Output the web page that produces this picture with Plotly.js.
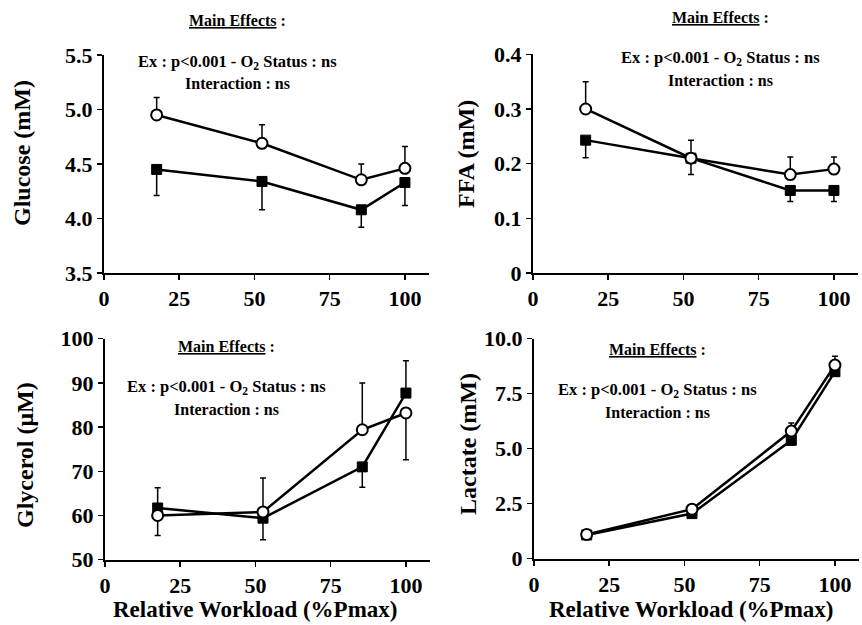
<!DOCTYPE html>
<html>
<head>
<meta charset="utf-8">
<script src="https://cdn.plot.ly/plotly-3.0.1.min.js"></script>
<style>html,body{margin:0;padding:0;background:#fff;}#chart{width:862px;height:625px;}</style>
</head>
<body>
<div id="chart"></div>
<script>
// ---- Data ----
const workload = [17.5, 52.5, 85.5, 100];

const glucoseHypoxia = [4.95, 4.69, 4.355, 4.46];
const glucoseHypoxiaUp = [0.16, 0.17, 0.145, 0.20];
const glucoseHypoxiaDown = [0, 0, 0, 0];
const glucoseNormoxia = [4.45, 4.34, 4.08, 4.33];
const glucoseNormoxiaUp = [0, 0, 0, 0];
const glucoseNormoxiaDown = [0.24, 0.26, 0.16, 0.21];

const ffaHypoxia = [0.30, 0.21, 0.18, 0.19];
const ffaHypoxiaUp = [0.05, 0.033, 0.032, 0.022];
const ffaHypoxiaDown = [0, 0, 0, 0];
const ffaNormoxia = [0.243, 0.21, 0.151, 0.151];
const ffaNormoxiaUp = [0, 0, 0, 0];
const ffaNormoxiaDown = [0.032, 0.03, 0.02, 0.02];

const glycerolHypoxia = [60.0, 60.8, 79.4, 83.2];
const glycerolHypoxiaUp = [6.3, 7.7, 10.6, 0];
const glycerolHypoxiaDown = [0, 0, 0, 10.6];
const glycerolNormoxia = [61.7, 59.4, 71.0, 87.7];
const glycerolNormoxiaUp = [0, 0, 0, 7.3];
const glycerolNormoxiaDown = [6.2, 4.9, 4.6, 0];

const lactateHypoxia = [1.1, 2.25, 5.8, 8.8];
const lactateHypoxiaUp = [0, 0, 0.37, 0.4];
const lactateHypoxiaDown = [0, 0, 0, 0];
const lactateNormoxia = [1.08, 2.05, 5.38, 8.5];
const lactateNormoxiaUp = [0, 0, 0, 0];
const lactateNormoxiaDown = [0, 0, 0.2, 0.2];

const xTickVals = [0, 25, 50, 75, 100];
const xTickText = ['0', '25', '50', '75', '100'];
const glucoseTickVals = [3.5, 4.0, 4.5, 5.0, 5.5];
const glucoseTickText = ['3.5', '4.0', '4.5', '5.0', '5.5'];
const ffaTickVals = [0, 0.1, 0.2, 0.3, 0.4];
const ffaTickText = ['0', '0.1', '0.2', '0.3', '0.4'];
const glycerolTickVals = [50, 60, 70, 80, 90, 100];
const glycerolTickText = ['50', '60', '70', '80', '90', '100'];
const lactateTickVals = [0, 2.5, 5.0, 7.5, 10.0];
const lactateTickText = ['0', '2.5', '5.0', '7.5', '10.0'];

const yTitles = ['Glucose (mM)', 'FFA (mM)', 'Glycerol (\u03bcM)', 'Lactate (mM)'];
const xTitle = 'Relative Workload (%Pmax)';
const effectsTitle = '<u>Main Effects</u> :';
const effectsLine1 = 'Ex : p&lt;0.001 - O<sub>2</sub> Status : ns';
const effectsLine2 = 'Interaction : ns';

// ---- Build ----
const W = 862, H = 625;
const FONT = 'Liberation Serif';
const px = v => v / W;
const py = v => 1 - v / H;

function pair(xa, ya, open, openUp, openDown, filled, filledUp, filledDown) {
  const errStyle = {type: 'data', symmetric: false, color: '#000', thickness: 1.5, width: 3};
  return [
    {x: workload, y: filled, xaxis: xa, yaxis: ya, type: 'scatter', mode: 'lines+markers',
     line: {color: '#000', width: 2.5},
     marker: {symbol: 'square', size: 10, color: '#000', line: {color: '#000', width: 1}},
     error_y: Object.assign({array: filledUp, arrayminus: filledDown}, errStyle),
     showlegend: false, hoverinfo: 'x+y'},
    {x: workload, y: open, xaxis: xa, yaxis: ya, type: 'scatter', mode: 'lines+markers',
     line: {color: '#000', width: 2.5},
     marker: {symbol: 'circle', size: 11, color: '#fff', line: {color: '#000', width: 2}},
     error_y: Object.assign({array: openUp, arrayminus: openDown}, errStyle),
     showlegend: false, hoverinfo: 'x+y'}
  ];
}

const data = [].concat(
  pair('x', 'y', glucoseHypoxia, glucoseHypoxiaUp, glucoseHypoxiaDown, glucoseNormoxia, glucoseNormoxiaUp, glucoseNormoxiaDown),
  pair('x2', 'y2', ffaHypoxia, ffaHypoxiaUp, ffaHypoxiaDown, ffaNormoxia, ffaNormoxiaUp, ffaNormoxiaDown),
  pair('x3', 'y3', glycerolHypoxia, glycerolHypoxiaUp, glycerolHypoxiaDown, glycerolNormoxia, glycerolNormoxiaUp, glycerolNormoxiaDown),
  pair('x4', 'y4', lactateHypoxia, lactateHypoxiaUp, lactateHypoxiaDown, lactateNormoxia, lactateNormoxiaUp, lactateNormoxiaDown)
);

const tickFont = {family: FONT, size: 22, color: '#000', weight: 'bold'};
function xAxis(d0, d1, anchor) {
  return {domain: [px(d0), px(d1)], anchor: anchor, range: [0, 108],
    tickvals: xTickVals, ticktext: xTickText, ticks: 'outside', ticklen: 5, tickwidth: 1.5, tickcolor: '#000',
    showline: true, linecolor: '#000', linewidth: 2, showgrid: false, zeroline: false,
    tickfont: tickFont, fixedrange: true};
}
function yAxis(b, t, anchor, range, tv, tt) {
  return {domain: [py(b), py(t)], anchor: anchor, range: range,
    tickvals: tv, ticktext: tt, ticks: 'outside', ticklen: 5, tickwidth: 1.5, tickcolor: '#000',
    showline: true, linecolor: '#000', linewidth: 2, showgrid: false, zeroline: false,
    tickfont: tickFont, fixedrange: true};
}

function ann(x, y, text, size, angle) {
  return {xref: 'paper', yref: 'paper', x: px(x), y: py(y), text: '<b>' + text + '</b>',
    showarrow: false, xanchor: 'center', yanchor: 'middle', textangle: angle || 0,
    font: {family: FONT, size: size, color: '#000', weight: 'bold'}};
}

const annotations = [
  ann(22, 153, yTitles[0], 24, -90),
  ann(466, 154, yTitles[1], 24, -90),
  ann(25, 455, yTitles[2], 24, -90),
  ann(468, 444, yTitles[3], 24, -90),
  ann(255, 609, xTitle, 23),
  ann(691, 609, xTitle, 23),
  ann(237, 21, effectsTitle, 16),
  ann(238, 62, effectsLine1, 16.5),
  ann(238, 83, effectsLine2, 16),
  ann(720, 17, effectsTitle, 16),
  ann(720, 58, effectsLine1, 16.5),
  ann(720, 80, effectsLine2, 16),
  ann(227, 346, effectsTitle, 16),
  ann(227, 387, effectsLine1, 16.5),
  ann(227, 409, effectsLine2, 16),
  ann(657, 349, effectsTitle, 16),
  ann(657, 390, effectsLine1, 16.5),
  ann(657, 412, effectsLine2, 16)
];

const layout = {
  width: W, height: H,
  margin: {l: 0, r: 0, t: 0, b: 0},
  paper_bgcolor: '#fff', plot_bgcolor: '#fff',
  showlegend: false,
  font: {family: FONT, color: '#000'},
  xaxis: xAxis(104, 429, 'y'),
  yaxis: yAxis(273, 55, 'x', [3.5, 5.5], glucoseTickVals, glucoseTickText),
  xaxis2: xAxis(533, 858, 'y2'),
  yaxis2: yAxis(273, 54.3, 'x2', [0, 0.4], ffaTickVals, ffaTickText),
  xaxis3: xAxis(105, 430, 'y3'),
  yaxis3: yAxis(559.7, 338.7, 'x3', [50, 100], glycerolTickVals, glycerolTickText),
  xaxis4: xAxis(534, 859, 'y4'),
  yaxis4: yAxis(558.7, 338.7, 'x4', [0, 10], lactateTickVals, lactateTickText),
  annotations: annotations
};

Plotly.newPlot('chart', data, layout, {displayModeBar: false, staticPlot: true});
</script>
</body>
</html>
